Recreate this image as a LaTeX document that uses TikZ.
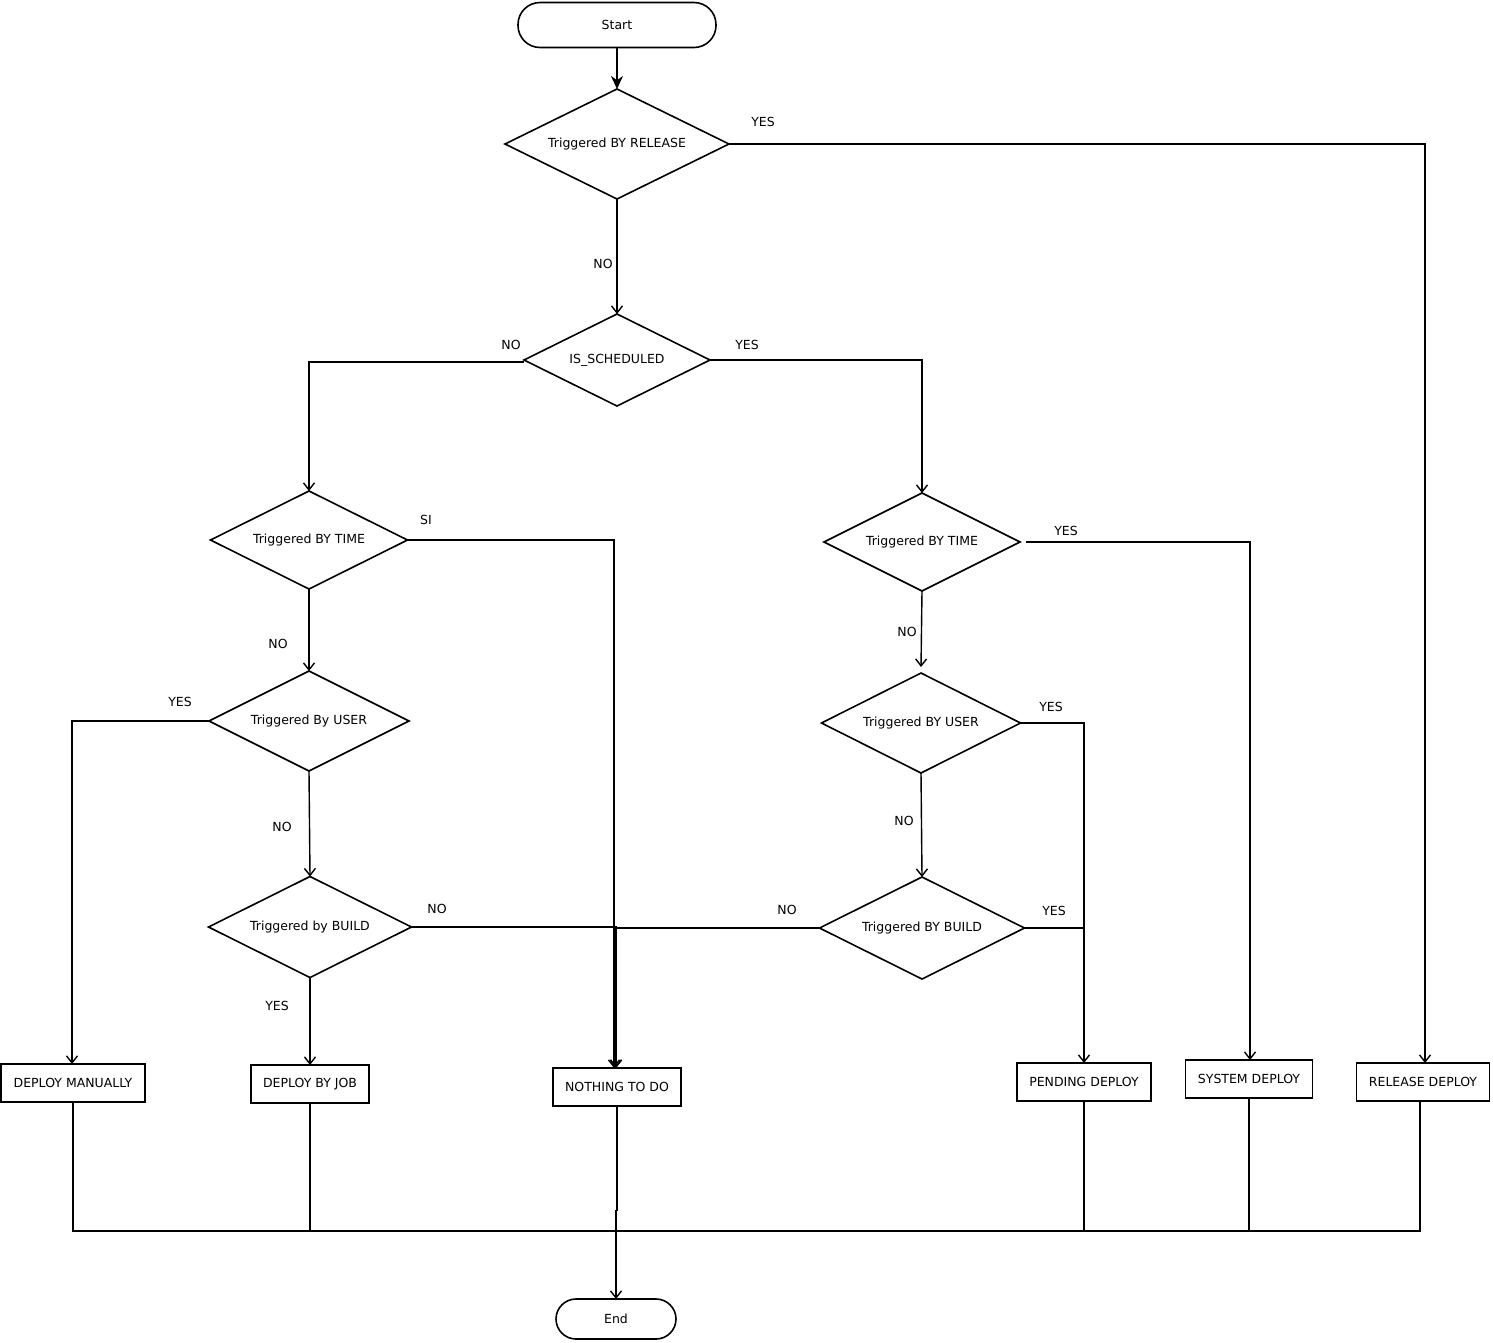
\documentclass[tikz,border=0pt]{standalone}
\usepackage{fontspec}
\setmainfont{DejaVu Sans}
\usetikzlibrary{shapes.geometric,arrows.meta}
\begin{document}
\begin{tikzpicture}[x=1pt,y=-1pt,
  font=\fontsize{12.5}{15}\selectfont,
  dec/.style={diamond, draw, line width=1.6pt, aspect=2, inner sep=0pt, outer sep=0pt},
  box/.style={rectangle, draw, line width=1.6pt, inner sep=0pt, outer sep=0pt},
  term/.style={rectangle, draw, line width=1.6pt, inner sep=0pt, outer sep=0pt},
  line/.style={line width=1.4pt},
  conn/.style={line width=1.4pt, -{Straight Barb[length=7pt,width=11pt,line width=1.4pt]}},
  heavy/.style={line width=2pt, -{Stealth[length=13pt,width=12pt]}},
  lbl/.style={inner sep=0pt}]
\useasboundingbox (0,0) rectangle (1493,1342);

% terminals
\node[term, rounded corners=22pt, minimum width=198pt, minimum height=45pt] (start) at (617,25) {Start};
\node[term, rounded corners=20pt, minimum width=120pt, minimum height=40pt] (end) at (616,1319) {End};

% decisions
\node[dec, minimum width=224pt, minimum height=110pt] (d1) at (617,144) {Triggered BY RELEASE};
\node[dec, minimum width=186pt, minimum height=92pt] (d2) at (617,360) {IS\_SCHEDULED};
\node[dec, minimum width=197pt, minimum height=98pt] (d3) at (309,540) {Triggered BY TIME};
\node[dec, minimum width=200pt, minimum height=100pt] (d4) at (309,721) {Triggered By USER};
\node[dec, minimum width=203pt, minimum height=101pt] (d5) at (310,927) {Triggered by BUILD};
\node[dec, minimum width=196pt, minimum height=98pt] (d6) at (922,542) {Triggered BY TIME};
\node[dec, minimum width=199pt, minimum height=100pt] (d7) at (921,723) {Triggered BY USER};
\node[dec, minimum width=205pt, minimum height=102pt] (d8) at (922,928) {Triggered BY BUILD};

% outcome boxes
\node[box, minimum width=144pt, minimum height=38pt] (dm) at (73,1083) {DEPLOY MANUALLY};
\node[box, minimum width=118pt, minimum height=38pt] (dj) at (310,1084) {DEPLOY BY JOB};
\node[box, minimum width=128pt, minimum height=38pt] (nd) at (617,1087) {NOTHING TO DO};
\node[box, minimum width=134pt, minimum height=38pt] (pd) at (1084,1082) {PENDING DEPLOY};
\node[box, minimum width=127pt, minimum height=38pt] (sd) at (1249,1079) {SYSTEM DEPLOY};
\node[box, minimum width=133pt, minimum height=38pt] (rd) at (1423,1082) {RELEASE DEPLOY};

% connectors
\draw[heavy] (start.south) -- (d1.north);
\draw[conn] (d1.east) -| ([xshift=2pt]rd.north);
\draw[conn] (d1.south) -- (d2.north);
\draw[conn] ([yshift=-2pt]d2.west) -| (d3.north);
\draw[conn] (d2.east) -| (d6.north);
\draw[conn] (d3.east) -| ([xshift=-3pt]nd.north);
\draw[conn] (d3.south) -- (d4.north);
\draw[conn] (d4.west) -| ([xshift=-1pt]dm.north);
\draw[conn] (d4.south) -- (d5.north);
\draw[conn] (d5.east) -| ([xshift=-1pt]nd.north);
\draw[conn] (d5.south) -- (dj.north);
\draw[conn] (d8.west) -| ([xshift=-1pt]nd.north);
\coordinate (d6out) at ([xshift=6pt]d6.east);
\draw[conn] (d6out) -| ([xshift=1pt]sd.north);
\draw[conn] (d6.south) -- ([yshift=6pt]d7.north);
\draw[conn] (d7.east) -| (pd.north);
\draw[conn] (d7.south) -- (d8.north);
\draw[line] (d8.east) -- (d8.east -| pd.north);

% bottom collector
\coordinate (bus) at (0,1231);
\draw[line] (dm.south) |- ([xshift=-3pt]rd.south |- bus) -- ([xshift=-3pt]rd.south);
\draw[line] (dj.south) -- (dj.south |- bus);
\draw[line] (pd.south) -- (pd.south |- bus);
\draw[line] (sd.south) -- (sd.south |- bus);
\coordinate (jog) at ([yshift=20pt]nd.south |- bus);
\draw[line] (nd.south) -- (jog);
\draw[conn] (jog) -- (end.north |- jog) -- (end.north);

% labels
\node[lbl] (l1) at (763,122) {YES};
\node[lbl] (l2) at (603,264) {NO};
\node[lbl] (l3) at (511,345) {NO};
\node[lbl] (l4) at (747,345) {YES};
\node[lbl] (l5) at (426,520) {SI};
\node[lbl] (l6) at (278,644) {NO};
\node[lbl] (l7) at (180,702) {YES};
\node[lbl] (l8) at (282,827) {NO};
\node[lbl] (l9) at (437,909) {NO};
\node[lbl] (l10) at (277,1006) {YES};
\node[lbl] (l11) at (1066,531) {YES};
\node[lbl] (l12) at (907,632) {NO};
\node[lbl] (l13) at (1051,707) {YES};
\node[lbl] (l14) at (904,821) {NO};
\node[lbl] (l15) at (787,910) {NO};
\node[lbl] (l16) at (1054,911) {YES};
\end{tikzpicture}
\end{document}
